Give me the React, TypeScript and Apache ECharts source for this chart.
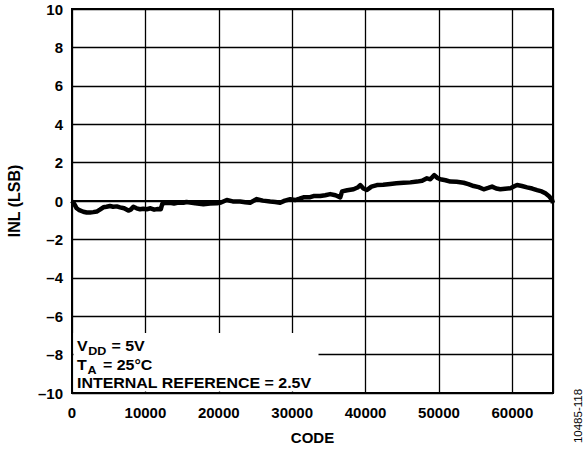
import React, { useEffect, useRef } from 'react';
import * as echarts from 'echarts';

const codes = [
  0, 300, 640, 1000, 1540, 2000, 2450, 2900, 3370, 3800, 4270, 4700, 5180, 5600, 6100, 6550, 7100, 7680, 8000, 8360,
  8800, 9270, 9700, 10180, 10700, 11200, 11700, 12100, 12300, 12700, 13360, 13900, 14500, 15180, 15600, 16090, 16800,
  17900, 18800, 19730, 20300, 21090, 21900, 22900, 23600, 24270, 25180, 26000, 27000, 27700, 28360, 29000, 29730, 30400,
  31000, 31540, 32450, 32910, 33820, 34500, 35180, 35900, 36550, 36800, 37500, 38360, 38900, 39270, 39700, 40180, 40800,
  41550, 42400, 43360, 44200, 45180, 46100, 47000, 47700, 48360, 48820, 49360, 49800, 50180, 50900, 51550, 52400, 53360,
  54000, 54730, 55400, 56090, 56700, 57230, 57800, 58360, 59000, 59730, 60200, 60640, 61300, 62000, 62700, 63360, 64000,
  64500, 65000, 65400, 65535,
];
const inl = [
  0, -0.15, -0.38, -0.48, -0.56, -0.6, -0.6, -0.58, -0.55, -0.45, -0.33, -0.3, -0.26, -0.3, -0.28, -0.33, -0.38, -0.5, -0.45, -0.3,
  -0.38, -0.43, -0.4, -0.43, -0.38, -0.45, -0.42, -0.43, -0.15, -0.1, -0.09, -0.13, -0.08, -0.09, -0.05, -0.08, -0.12,
  -0.17, -0.13, -0.12, -0.08, 0.05, -0.02, -0.03, -0.06, -0.09, 0.1, 0.02, -0.03, -0.05, -0.09, 0.02, 0.09, 0.05,
  0.12, 0.19, 0.2, 0.26, 0.26, 0.3, 0.36, 0.3, 0.19, 0.5, 0.56, 0.61, 0.7, 0.83, 0.65, 0.57, 0.75,
  0.83, 0.85, 0.89, 0.92, 0.95, 0.97, 1.01, 1.05, 1.18, 1.13, 1.35, 1.2, 1.13, 1.08, 1.01, 1.0, 0.95,
  0.88, 0.78, 0.72, 0.61, 0.68, 0.75, 0.65, 0.61, 0.64, 0.66, 0.75, 0.83, 0.78, 0.71, 0.65, 0.57, 0.5,
  0.4, 0.25, 0.05, -0.1,
];

const xMin = 0;
const xMax = 65535;
const xInterval = 10000;
const yMin = -10;
const yMax = 10;
const yInterval = 2;

const FONT = '"Liberation Sans", Arial, Helvetica, sans-serif';

export default function App() {
  const ref = useRef<HTMLDivElement>(null);
  useEffect(() => {
    if (!ref.current) return;
    const chart = echarts.init(ref.current, undefined, { renderer: 'svg' });
    const data = codes.map((c, i) => [c, inl[i]]);
    const sx = 1.14;
    chart.setOption({
      animation: false,
      backgroundColor: '#fff',
      grid: {
        left: 72,
        top: 9,
        right: 31,
        bottom: 57,
        show: true,
        borderColor: '#000',
        borderWidth: 2,
        backgroundColor: 'transparent',
        containLabel: false,
        outerBoundsMode: 'none',
      },
      xAxis: {
        type: 'value',
        min: xMin,
        max: xMax,
        interval: xInterval,
        name: 'CODE',
        nameLocation: 'middle',
        nameGap: 37,
        nameTextStyle: { fontFamily: FONT, fontWeight: 'bold', fontSize: 15, color: '#000' },
        axisLine: { show: true, lineStyle: { color: '#000', width: 2 } },
        axisTick: { show: false },
        axisLabel: {
          showMaxLabel: false,
          margin: 12,
          fontFamily: FONT,
          fontWeight: 'bold',
          fontSize: 15,
          color: '#000',
          formatter: (v: number) => String(v),
        },
        splitLine: { show: true, lineStyle: { color: '#000', width: 1.3 } },
      },
      yAxis: {
        type: 'value',
        min: yMin,
        max: yMax,
        interval: yInterval,
        name: 'INL (LSB)',
        nameLocation: 'middle',
        nameGap: 50,
        nameTextStyle: { fontFamily: FONT, fontWeight: 'bold', fontSize: 16, color: '#000' },
        axisLine: { show: true, lineStyle: { color: '#000', width: 2 } },
        axisTick: { show: false },
        axisLabel: {
          margin: 9,
          fontFamily: FONT,
          fontWeight: 'bold',
          fontSize: 15,
          color: '#000',
          formatter: (v: number) => (v < 0 ? '\u2013' + Math.abs(v) : String(v)),
        },
        splitLine: { show: true, lineStyle: { color: '#000', width: 1.3 } },
      },
      series: [
        {
          type: 'line',
          data,
          showSymbol: false,
          symbol: 'none',
          lineStyle: { color: '#000', width: 4.5, join: 'round' },
          z: 3,
        },
      ],
      graphic: [
        {
          type: 'rect',
          z: 100,
          shape: { x: 73.5, y: 333, width: 245, height: 58.5 },
          style: { fill: '#fff' },
        },
        {
          type: 'text', z: 101, x: 77, y: 345.5, scaleX: sx,
          style: { text: 'V', font: `bold 14px ${FONT}`, fill: '#000', verticalAlign: 'middle' },
        },
        {
          type: 'text', z: 101, x: 88.3, y: 351, scaleX: sx,
          style: { text: 'DD', font: `bold 11px ${FONT}`, fill: '#000', verticalAlign: 'middle' },
        },
        {
          type: 'text', z: 101, x: 107, y: 345.5, scaleX: sx,
          style: { text: ' = 5V', font: `bold 14px ${FONT}`, fill: '#000', verticalAlign: 'middle' },
        },
        {
          type: 'text', z: 101, x: 77, y: 365, scaleX: sx,
          style: { text: 'T', font: `bold 14px ${FONT}`, fill: '#000', verticalAlign: 'middle' },
        },
        {
          type: 'text', z: 101, x: 87.5, y: 370, scaleX: sx,
          style: { text: 'A', font: `bold 11px ${FONT}`, fill: '#000', verticalAlign: 'middle' },
        },
        {
          type: 'text', z: 101, x: 98.5, y: 365, scaleX: sx,
          style: { text: ' = 25°C', font: `bold 14px ${FONT}`, fill: '#000', verticalAlign: 'middle' },
        },
        {
          type: 'text', z: 101, x: 77, y: 383, scaleX: sx,
          style: { text: 'INTERNAL REFERENCE = 2.5V', font: `bold 14px ${FONT}`, fill: '#000', verticalAlign: 'middle' },
        },
        {
          type: 'text', z: 101, x: 578, y: 416, rotation: Math.PI / 2,
          style: { text: '10485-118', font: `11.5px ${FONT}`, fill: '#000', align: 'center', verticalAlign: 'middle' },
        },
      ],
    });
    return () => chart.dispose();
  }, []);
  return (
    <div
      ref={ref}
      style={{ position: 'absolute', left: 0, top: 0, width: 584, height: 450, background: '#fff' }}
    />
  );
}
